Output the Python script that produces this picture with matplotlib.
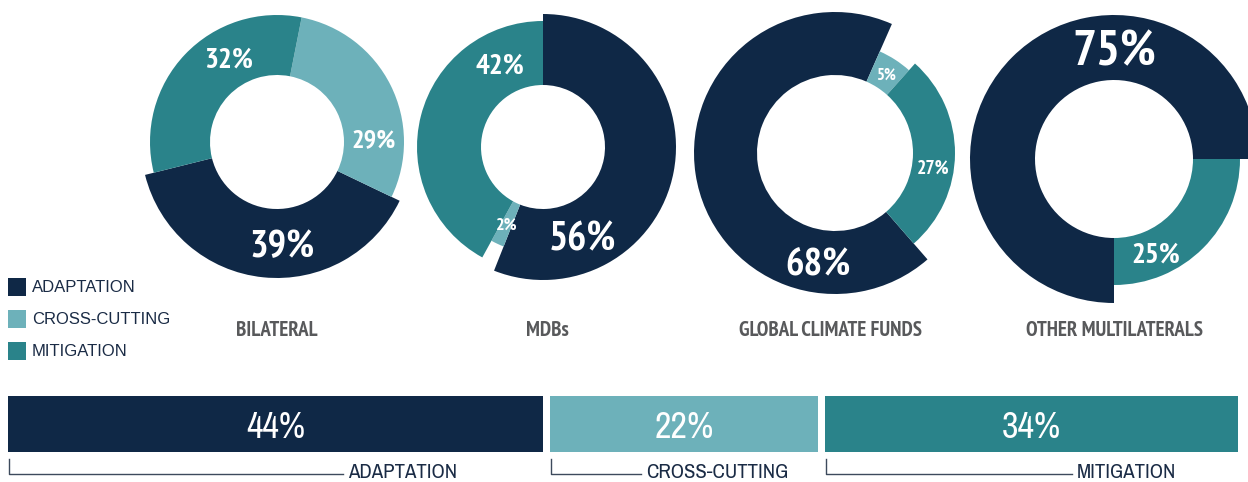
import matplotlib
matplotlib.use("Agg")
import matplotlib.pyplot as plt
import numpy as np
from matplotlib import font_manager as fm
from matplotlib.patches import Rectangle

W, H = 1248, 482

CATEGORIES = ["ADAPTATION", "CROSS-CUTTING", "MITIGATION"]
CHANNELS = ["BILATERAL", "MDBs", "GLOBAL CLIMATE FUNDS", "OTHER MULTILATERALS"]

# share of each category (%) per channel, same order as CATEGORIES
BILATERAL = [39, 29, 32]
MDBS = [56, 2, 42]
CLIMATE_FUNDS = [68, 5, 27]
OTHER_MULTI = [75, 0, 25]
TOTAL = [44, 22, 34]

COLORS = ["#0f2846", "#6db1ba", "#2a838a"]
NAVY = "#1a2b45"


def condensed_font(bold):
    """Path of an installed narrow/condensed face, or None."""
    best, best_rank = None, 99
    for f in fm.fontManager.ttflist:
        cond = ("Narrow" in f.name or "Condensed" in f.name
                or "condensed" in str(f.stretch))
        if not cond or f.style != "normal" or "extra" in str(f.stretch):
            continue
        w = f.weight if isinstance(f.weight, (int, float)) else fm.weight_dict.get(f.weight, 400)
        if (w >= 600) != bold:
            continue
        rank = 0 if "Narrow" in f.name else 1 if f.name.startswith("DejaVu") else 2
        if rank < best_rank:
            best, best_rank = f.fname, rank
    return best


def font(size, bold=False):
    path = condensed_font(bold)
    if path:
        return fm.FontProperties(fname=path, size=size)
    return fm.FontProperties(family="DejaVu Sans", weight="bold" if bold else "normal",
                             size=size)


# donut layout: centre (px from top-left), hole radius, outer radius per slice,
# label size and label angle per slice (None -> slice middle)
donuts = [
    dict(vals=BILATERAL, cx=277, cy=142, inner=67, outer=[136, 127, 127],
         fs=[28, 19, 21], lab=[-87, 2, 120], start=194, ccw=True),
    dict(vals=MDBS, cx=543, cy=147, inner=62, outer=[133, 107, 126],
         fs=[29, 13, 21], lab=[-66, None, 117], start=90, ccw=False),
    dict(vals=CLIMATE_FUNDS, cx=835, cy=153, inner=78, outer=[141, 111, 120],
         fs=[28, 12, 14], lab=[-99, None, -8], start=-49, ccw=False),
    dict(vals=OTHER_MULTI, cx=1114, cy=159, inner=79, outer=[144, 0, 126],
         fs=[36, 0, 21], lab=[90, None, -66], start=0, ccw=True),
]
channel_x = [277, 547, 830, 1114]

fig = plt.figure(figsize=(W / 100, H / 100), dpi=100)
ax = fig.add_axes([0, 0, 1, 1])

for d in donuts:
    cx, cy = d["cx"], H - d["cy"]
    wedges, _ = ax.pie(d["vals"], colors=COLORS, startangle=d["start"],
                       counterclock=d["ccw"], radius=max(d["outer"]),
                       center=(cx, cy), frame=True,
                       wedgeprops=dict(linewidth=0))
    for w, r, fs, ang, v in zip(wedges, d["outer"], d["fs"], d["lab"], d["vals"]):
        w.set_radius(r)
        w.set_width(r - d["inner"])
        if v == 0:
            continue
        if ang is None:
            ang = (w.theta1 + w.theta2) / 2
        a = np.deg2rad(ang)
        rr = (r + d["inner"]) / 2
        ax.text(cx + rr * np.cos(a), cy + rr * np.sin(a), f"{v}%",
                ha="center", va="center_baseline", color="white",
                fontproperties=font(fs, bold=True))

# channel names under the donuts
for name, x in zip(CHANNELS, channel_x):
    ax.text(x, H - 329, name, ha="center", va="center_baseline",
            color="#58595b", fontproperties=font(15, bold=True))

# legend
for i, (cat, col) in enumerate(zip(CATEGORIES, COLORS)):
    y = H - (287 + i * 32)
    ax.add_patch(Rectangle((8, y - 9), 18, 18, color=col, lw=0))
    ax.text(32, y, cat, ha="left", va="center", color=NAVY, fontsize=12,
            family=["Liberation Sans", "DejaVu Sans"])

# overall split bar
x0, x1, gap = 8, 1238, 7
scale = (x1 - x0 - gap * (len(TOTAL) - 1)) / sum(TOTAL)
lefts = x0 + np.concatenate([[0], np.cumsum(TOTAL)[:-1]]) * scale + np.arange(len(TOTAL)) * gap
widths = np.array(TOTAL) * scale
bar_y = H - 424
ax.barh([bar_y] * len(TOTAL), widths, left=lefts, height=56, color=COLORS, linewidth=0)

label_x = [348, 646, 1077]
for left, wdt, v, cat, lx in zip(lefts, widths, TOTAL, CATEGORIES, label_x):
    ax.text(left + wdt / 2, bar_y, f"{v}%", ha="center", va="center_baseline",
            color="white", fontproperties=font(26))
    ax.plot([left + 1, left + 1, lx - 5], [H - 459, H - 474, H - 474],
            color="#3d4a5c", lw=1)
    ax.text(lx, H - 472, cat, ha="left", va="center", color=NAVY,
            fontproperties=font(15))

ax.set_xlim(0, W)
ax.set_ylim(0, H)
ax.set_aspect("equal")
ax.axis("off")

fig.savefig("out.png", dpi=100)
